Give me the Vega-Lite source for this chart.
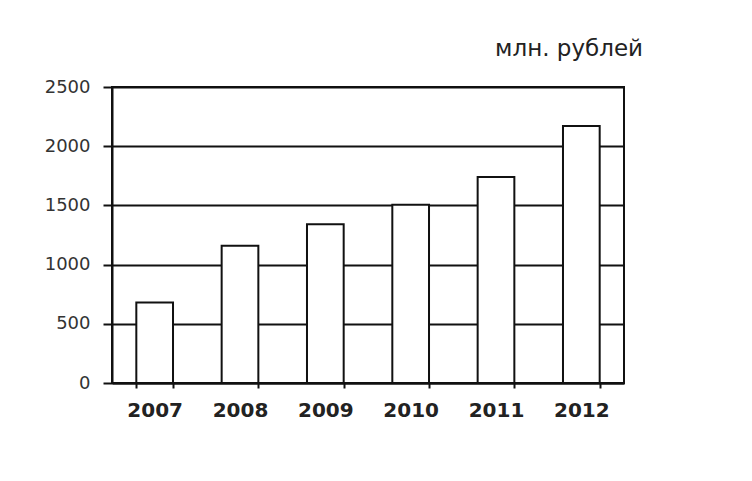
{
  "$schema": "https://vega.github.io/schema/vega-lite/v6.json",
  "width": 512,
  "height": 296,
  "autosize": "none",
  "padding": {"left": 112, "top": 87, "right": 128, "bottom": 98},
  "background": "white",
  "title": {
    "text": "млн. рублей",
    "anchor": "end",
    "frame": "group",
    "dx": 19,
    "offset": 17,
    "font": "DejaVu Sans",
    "fontSize": 23,
    "fontWeight": "normal",
    "color": "#222"
  },
  "data": {
    "values": [
      {"year": "2007", "value": 680},
      {"year": "2008", "value": 1160},
      {"year": "2009", "value": 1340},
      {"year": "2010", "value": 1505},
      {"year": "2011", "value": 1740},
      {"year": "2012", "value": 2170}
    ]
  },
  "mark": {"type": "bar", "fill": "white", "stroke": "#111", "strokeWidth": 2},
  "encoding": {
    "x": {
      "field": "year",
      "type": "ordinal",
      "scale": {"paddingInner": 0.57, "paddingOuter": 0.285},
      "axis": {
        "title": null,
        "labelAngle": 0,
        "tickBand": "extent",
        "tickSize": 5,
        "tickColor": "#111",
        "tickWidth": 2,
        "domainColor": "#111",
        "domainWidth": 2,
        "labelPadding": 12,
        "labelFont": "DejaVu Sans",
        "labelFontSize": 20,
        "labelFontWeight": "bold",
        "labelColor": "#222",
        "grid": false
      }
    },
    "y": {
      "field": "value",
      "type": "quantitative",
      "scale": {"domain": [0, 2500]},
      "axis": {
        "title": null,
        "values": [0, 500, 1000, 1500, 2000, 2500],
        "format": "d",
        "grid": true,
        "gridColor": "#111",
        "gridWidth": 2,
        "gridOpacity": 1,
        "tickSize": 9,
        "tickColor": "#111",
        "tickWidth": 2,
        "domainColor": "#111",
        "domainWidth": 2,
        "labelPadding": 13,
        "labelFont": "DejaVu Sans",
        "labelFontSize": 18,
        "labelColor": "#333"
      }
    }
  },
  "config": {"view": {"stroke": "#111", "strokeWidth": 2}}
}
